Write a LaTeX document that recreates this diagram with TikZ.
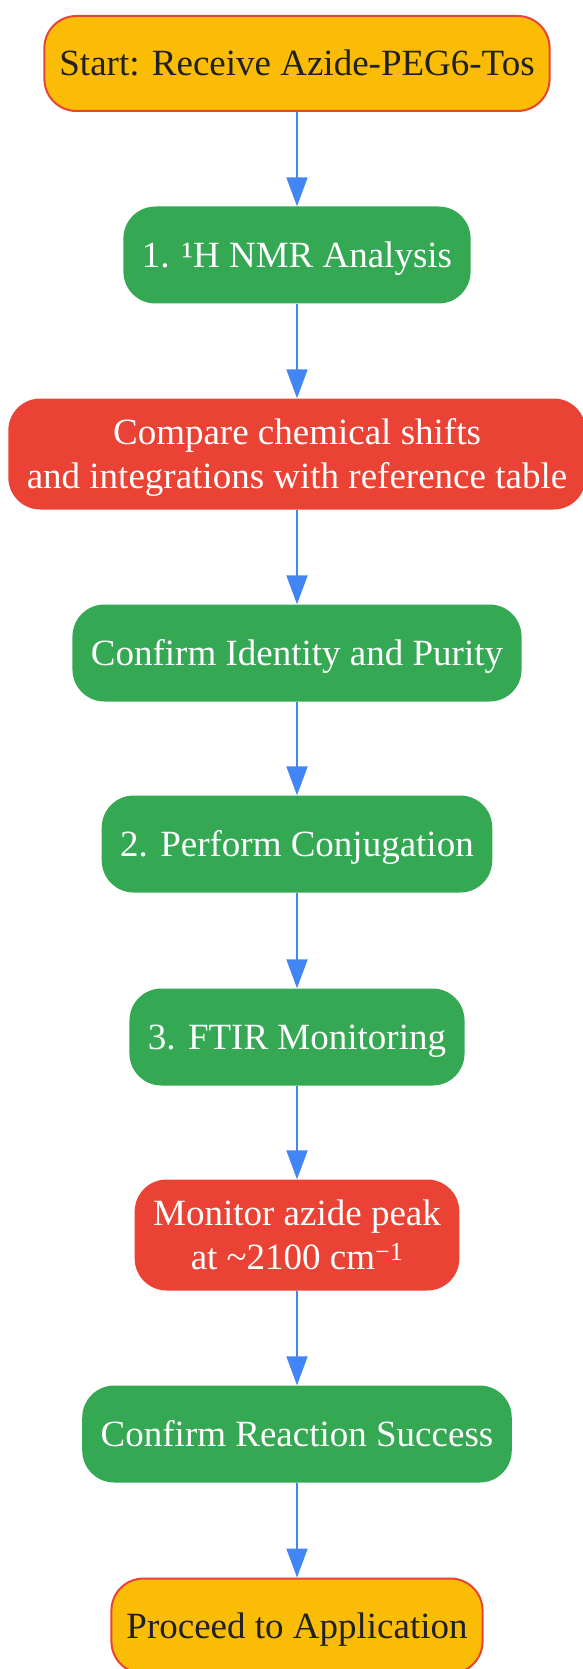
\documentclass[tikz,border=0pt]{standalone}
\usepackage{fontspec}
\setmainfont{Liberation Serif}
\usetikzlibrary{positioning, arrows.meta}

\definecolor{startyellow}{HTML}{FBBC05}
\definecolor{stepgreen}{HTML}{34A853}
\definecolor{checkred}{HTML}{EA4335}
\definecolor{flowblue}{HTML}{4285F4}
\definecolor{darktext}{HTML}{202124}

\begin{document}
\begin{tikzpicture}[
  x=1pt, y=-1pt,
  every node/.style={rectangle, rounded corners=32pt, align=center,
    inner xsep=18.5pt, text height=34.5pt, text depth=9.5pt,
    font=\fontsize{37}{44}\selectfont},
  endbox/.style={fill=startyellow, draw=checkred, line width=2pt,
    inner xsep=15pt, text=darktext, minimum height=95pt},
  stepbox/.style={fill=stepgreen, text=white, minimum height=97pt},
  checkbox/.style={fill=checkred, text=white, minimum height=111pt,
    text height=78.5pt},
  flow/.style={draw=flowblue, line width=2pt,
    -{Triangle[length=29pt, width=21pt]}}
]
\useasboundingbox (0,0) rectangle (583,1669);

% nodes, top to bottom
\node[endbox] (start) at (297,63.5) {Start: Receive Azide-PEG6-Tos};
\node[stepbox] (nmr) at (297,255) {1. ¹H NMR Analysis};
\node[checkbox] (compare) at (297,454) {Compare chemical shifts\\and integrations with reference table};
\node[stepbox] (identity) at (297,653) {Confirm Identity and Purity};
\node[stepbox] (conj) at (297,844) {2. Perform Conjugation};
\node[stepbox] (ftir) at (297,1037) {3. FTIR Monitoring};
\node[checkbox] (monitor) at (297,1235) {Monitor azide peak\\at \textasciitilde 2100 cm\textsuperscript{\char"2212 1}};
\node[stepbox] (success) at (297,1434) {Confirm Reaction Success};
\node[endbox] (proceed) at (297,1626) {Proceed to Application};

% connectors
\draw[flow] (start) -- (nmr);
\draw[flow] (nmr) -- (compare);
\draw[flow] (compare) -- (identity);
\draw[flow] (identity) -- (conj);
\draw[flow] (conj) -- (ftir);
\draw[flow] (ftir) -- (monitor);
\draw[flow] (monitor) -- (success);
\draw[flow] (success) -- (proceed);

\end{tikzpicture}
\end{document}
